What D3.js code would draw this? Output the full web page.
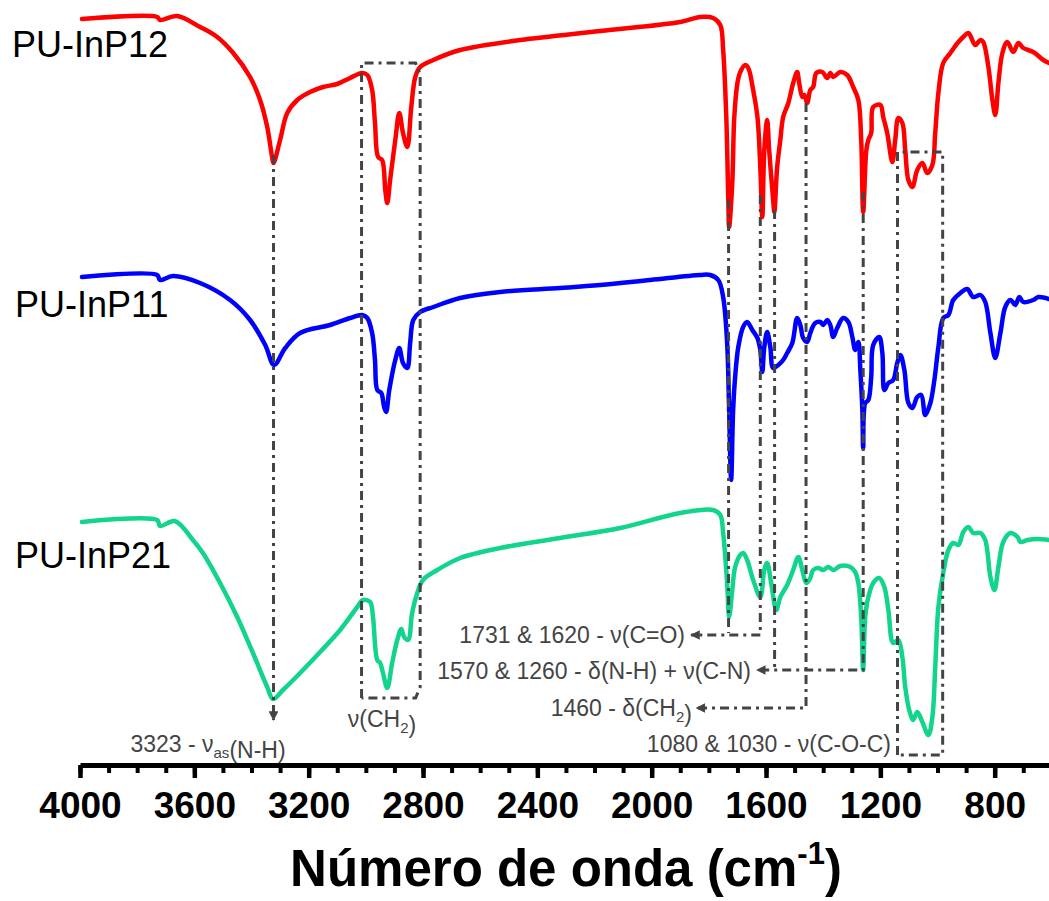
<!DOCTYPE html>
<meta charset="utf-8">
<style>
    body { margin: 0; background: #fff; }
    svg { font-family: "Liberation Sans", Arial, sans-serif; }
    .curve { fill: none; stroke-width: 4.5; stroke-linejoin: round; stroke-linecap: round; }
    .guide { fill: none; stroke: #444; stroke-width: 3; stroke-dasharray: 9,5,3,5; }
    .note { fill: #444; font-size: 23px; }
    .axis path, .axis line { stroke: #000; }
</style>
<body>
<script src="https://cdn.jsdelivr.net/npm/d3@7"></script>
<script>
// spectra: [wavenumber (cm-1), transmittance (a.u., stacked)]
const inp12 = [[3993,149.2],[3730,149.6],[3720,149.0],[3660,149.8],[3580,147.6],[3520,145.6],[3464,142.4],
  [3405,137.6],[3370,133],[3345,127.6],[3328,121.6],[3323,120.4],[3300,125],[3275,130.4],[3240,133],
  [3195,134.6],[3150,135.6],[3100,136.2],[3055,137.4],[3013,138.4],[2995,138],[2978,135],[2968,128.4],
  [2957,121.6],[2943,121],[2932,115],[2925,112.4],[2915,117],[2897,125],[2883,130.4],[2870,126.4],
  [2855,123.6],[2841,131.6],[2827,137.6],[2810,139.6],[2764,141],[2670,143],[2460,145],[2180,146.8],
  [1900,148.6],[1830,149.6],[1785,149.4],[1760,148],[1750,143],[1739,129.6],[1732,113],[1729,107.6],
  [1718,116.4],[1711,129.6],[1700,136.4],[1690,138.6],[1673,140],[1662,139.4],[1645,135],[1630,129.6],
  [1620,119.6],[1613,109.6],[1606,123],[1596,129],[1589,123],[1575,113],[1571,110.6],[1561,119.6],
  [1550,125],[1540,129.6],[1522,132.4],[1505,136.4],[1491,138.6],[1484,136.4],[1473,133.6],[1466,134],
  [1456,132.4],[1445,135],[1435,135.6],[1424,138.4],[1403,138.6],[1386,137.4],[1375,138.4],[1365,137.6],
  [1340,138.6],[1316,138],[1295,135.6],[1277,133],[1267,125],[1260,110.6],[1249,123],[1242,125],
  [1232,126.4],[1225,131.6],[1200,132],[1190,129.6],[1176,126.4],[1158,120.6],[1148,125],[1137,129.4],
  [1123,128.4],[1113,123],[1102,117],[1088,115.6],[1071,119],[1053,120.4],[1036,118.4],[1018,120],
  [1008,126.4],[997,134.4],[980,140.4],[955,142.4],[930,144.4],[910,145.6],[892,146.4],[868,144],
  [850,145],[840,144.6],[822,139.6],[808,133],[798,130],[787,136.4],[773,142.4],[756,144.6],[735,142.6],
  [717,144.4],[700,143.4],[665,142.6],[630,141],[610,140.4]];

const inp11 = [[3993,97.6],[3730,98],[3720,97],[3675,97.8],[3580,96.4],[3475,93],[3405,89],[3352,84],
  [3321,80],[3282,83.4],[3230,86.4],[3125,88],[3055,89.4],[3013,90],[2995,89.4],[2978,86.4],[2968,81],
  [2960,75],[2946,74.4],[2936,71.6],[2929,70.6],[2918,75],[2897,81],[2883,83.4],[2870,80.4],[2855,79.4],
  [2845,84.4],[2834,89],[2810,90.6],[2764,91.6],[2670,93.4],[2530,94.6],[2320,95.4],[2180,96],[2005,97],
  [1830,98],[1795,98],[1767,97],[1750,93.6],[1736,84.4],[1729,71],[1722,57],[1715,71],[1708,77.6],
  [1697,83.6],[1680,87.6],[1666,88.6],[1648,87],[1630,85.4],[1620,83],[1613,78.6],[1606,83.6],
  [1596,86.6],[1585,83.6],[1575,79.4],[1557,80],[1540,81],[1526,82.4],[1508,84.4],[1491,89.4],[1480,88],
  [1470,85.4],[1456,84.6],[1445,86.4],[1428,88.4],[1410,88.6],[1400,88],[1386,89],[1375,88],[1365,85.6],
  [1351,87.4],[1330,89.4],[1312,88.6],[1298,85.6],[1288,83],[1277,84.6],[1270,79],[1263,71],[1260,63.4],
  [1253,72.4],[1242,73],[1232,77.6],[1225,84],[1204,85.6],[1193,82.4],[1186,75],[1172,76.4],[1155,77],
  [1141,80.4],[1130,82],[1116,79],[1102,72.4],[1088,71.4],[1071,73.6],[1057,74],[1043,70],[1025,72.4],
  [1011,77],[997,83.6],[980,89.4],[962,90],[945,93],[920,94.4],[896,95.2],[875,93.6],[850,94],[833,92.6],
  [815,86.4],[798,81.4],[780,86.4],[763,91.6],[745,93],[728,92],[714,93.6],[700,92.6],[665,93],
  [647,93.6],[610,93.2]];

const inp21 = [[3993,48.6],[3730,49],[3720,47.8],[3668,48.8],[3605,45],[3570,42.4],[3510,36.4],
  [3450,29.6],[3395,22.4],[3345,15.6],[3325,13.2],[3290,15],[3230,18.4],[3160,22.6],[3090,27],
  [3030,31.6],[3010,33],[2985,32.6],[2975,29.6],[2960,21],[2950,20.4],[2940,18.4],[2925,15.4],
  [2908,20.4],[2890,25],[2876,27.2],[2866,25.6],[2852,25],[2838,30.4],[2820,34.4],[2800,37],[2750,39],
  [2670,41.4],[2530,43.4],[2320,45.4],[2110,47.4],[1900,50.4],[1785,51],[1760,50],[1750,46.4],
  [1736,36.4],[1729,29.6],[1718,35],[1708,39.6],[1690,42],[1680,42.4],[1666,41],[1645,37],[1620,33.6],
  [1606,39],[1596,40.4],[1582,36.4],[1564,31],[1550,33.6],[1526,36],[1505,39],[1487,41.6],[1473,39],
  [1459,36.4],[1445,37.4],[1435,39],[1417,39.4],[1400,39],[1382,39.6],[1365,39],[1340,39.8],[1305,39.6],
  [1288,38.6],[1277,36.4],[1267,29.6],[1260,19],[1253,29.6],[1242,33.6],[1225,36.4],[1204,37.4],
  [1186,35.6],[1172,31],[1155,24.4],[1137,25],[1123,21.6],[1113,15.6],[1099,11],[1085,9],[1071,10.6],
  [1053,8.6],[1032,6],[1018,9.6],[1008,19.6],[997,31.6],[980,38.4],[962,43],[945,44.4],[927,44],
  [910,46.6],[892,47.6],[875,46.4],[850,46.4],[833,45],[815,37.6],[801,35],[787,39.6],[770,44.6],
  [745,46.4],[720,45.6],[710,44.6],[685,45],[650,45.2],[610,45]];

const seriesNames = ["PU-InP12", "PU-InP11", "PU-InP21"];
const seriesColors = ["#ff0000", "#0000ff", "#12d48c"];
const seriesData = [inp12, inp11, inp21];

const majorTicks = [4000, 3600, 3200, 2800, 2400, 2000, 1600, 1200, 800];
const minorTicks = d3.range(4000, 610, -100);

const width = 1049, height = 901;
const x = d3.scaleLinear().domain([4000, 610]).range([80, 1049]);
const y = d3.scaleLinear().domain([0, 153]).range([765, 0]);

const svg = d3.select("body").append("svg")
    .attr("width", width)
    .attr("height", height);

svg.append("defs").append("marker")
    .attr("id", "arr")
    .attr("viewBox", "0 0 10 10")
    .attr("refX", 9).attr("refY", 5)
    .attr("markerWidth", 3.2).attr("markerHeight", 3.2)
    .attr("markerUnits", "strokeWidth")
    .attr("orient", "auto")
    .append("path")
    .attr("d", "M0,0L10,5L0,10Z")
    .attr("fill", "#444");

// spectra
const line = d3.line()
    .x(d => x(d[0]))
    .y(d => y(d[1]))
    .curve(d3.curveCatmullRom.alpha(0.5));

svg.selectAll(".curve")
    .data(seriesData)
    .enter().append("path")
    .attr("class", "curve")
    .attr("stroke", (d, i) => seriesColors[i])
    .attr("d", line);

// guide lines: [w, T] vertices
const guides = [
    {pts: [[3323, 122], [3323, 9]], arrow: true},
    {pts: [[3015, 13.4], [3015, 140.4], [2826, 140.4], [2810, 138.2], [2810, 15.6], [2826, 13.4], [3015, 13.4]]},
    {pts: [[1731, 113], [1731, 26.4]]},
    {pts: [[1620, 114], [1620, 26], [1862, 26]], arrow: true},
    {pts: [[1570, 111], [1570, 19]]},
    {pts: [[1260, 114.6], [1260, 19], [1632, 19]], arrow: true},
    {pts: [[1460, 132.4], [1460, 11.4], [1843, 11.4]], arrow: true},
    {pts: [[1140, 2], [1140, 122.6], [982, 122.6], [982, 2], [1140, 2]]}
];

const gl = d3.line().x(d => x(d[0])).y(d => y(d[1]));
svg.selectAll(".guide")
    .data(guides)
    .enter().append("path")
    .attr("class", "guide")
    .attr("d", d => gl(d.pts))
    .attr("marker-end", d => d.arrow ? "url(#arr)" : null);

// series labels
const labelY = [57, 317, 568];
svg.selectAll(".slabel")
    .data(seriesNames)
    .enter().append("text")
    .attr("class", "slabel")
    .attr("x", (d, i) => i === 0 ? 12 : 15)
    .attr("y", (d, i) => labelY[i])
    .style("font-size", "36px")
    .text(d => d);

// notes
function note(xp, yp, anchor, parts) {
    const t = svg.append("text").attr("class", "note")
        .attr("x", xp).attr("y", yp).attr("text-anchor", anchor);
    parts.forEach(p => {
        if (typeof p === "string") {
            t.append("tspan").text(p);
        } else {
            t.append("tspan").attr("dy", 6).style("font-size", "15px").text(p.sub);
            t.append("tspan").attr("dy", -6).text("");
        }
    });
}
note(208, 752, "middle", ["3323 - ν", {sub: "as"}, "(N-H)"]);
note(382, 727, "middle", ["ν(CH", {sub: "2"}, ")"]);
note(685, 643, "end", ["1731 & 1620 - ν(C=O)"]);
note(751, 679, "end", ["1570 & 1260 - δ(N-H) + ν(C-N)"]);
note(692, 716, "end", ["1460 - δ(CH", {sub: "2"}, ")"]);
note(891, 752, "end", ["1080 & 1030 - ν(C-O-C)"]);

// x axis
const minorAxis = d3.axisBottom(x).tickValues(minorTicks).tickSize(8).tickSizeOuter(0).tickFormat("");
const majorAxis = d3.axisBottom(x).tickValues(majorTicks).tickSize(13).tickSizeOuter(0).tickFormat(d3.format("d"));

svg.append("g").attr("class", "axis")
    .attr("transform", "translate(0,765)")
    .call(minorAxis)
    .call(g => g.select(".domain").remove())
    .selectAll("line").attr("stroke-width", 4);

const gx = svg.append("g").attr("class", "axis")
    .attr("transform", "translate(0,765)")
    .call(majorAxis);
gx.select(".domain").attr("stroke-width", 5);
gx.selectAll("line").attr("stroke-width", 4.5);
gx.selectAll("text")
    .attr("y", 53).attr("dy", 0)
    .attr("fill", "#000")
    .style("font-size", "37px")
    .style("font-weight", "bold")
    .style("font-family", "'Liberation Sans', Arial, sans-serif");

const title = svg.append("text")
    .attr("x", 566).attr("y", 886)
    .attr("text-anchor", "middle")
    .style("font-size", "51px")
    .style("font-weight", "bold");
title.append("tspan").text("Número de onda (cm");
title.append("tspan").attr("dy", -22).style("font-size", "31px").text("-1");
title.append("tspan").attr("dy", 22).text(")");
</script>
</body>
